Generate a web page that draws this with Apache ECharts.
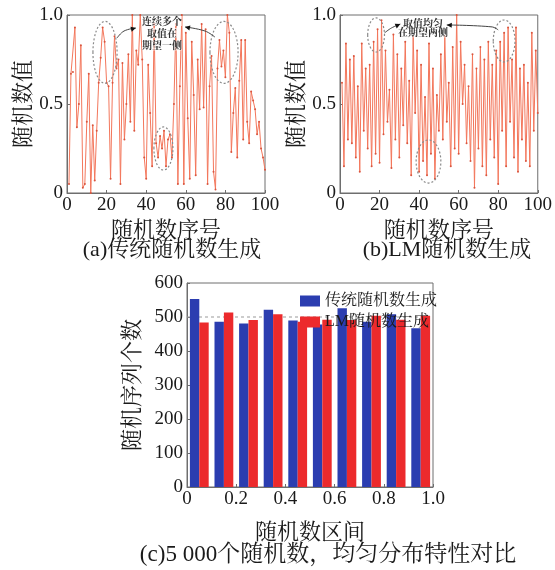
<!DOCTYPE html>
<html><head><meta charset="utf-8">
<script src="https://cdn.jsdelivr.net/npm/echarts@6/dist/echarts.min.js"></script>
<style>html,body{margin:0;padding:0;background:#fff}#c{width:555px;height:570px}</style>
</head><body><div id="c"></div>
<script>
// ---------- data ----------
var seqIndex = [];
for (var i = 1; i <= 100; i++) seqIndex.push(i);
var traditionalSeq = [0.05,0.67,0.68,0.93,0.37,0.50,0.83,0.03,0.05,0.40,
  0.67,0.00,0.38,0.07,0.35,0.62,0.76,0.93,0.85,0.62,
  0.60,0.08,0.62,0.88,0.70,0.75,0.05,0.73,0.30,0.50,
  0.78,0.40,1.00,0.35,0.80,0.72,1.00,0.75,0.20,0.08,
  0.72,0.45,0.15,0.95,0.28,0.20,0.32,0.25,0.35,0.15,
  0.30,0.33,0.20,0.50,0.95,0.05,0.60,1.00,0.05,0.90,
  0.42,0.08,0.85,0.55,0.10,0.75,0.47,0.95,0.48,0.92,
  0.05,0.60,0.77,0.12,0.02,0.70,0.86,0.71,0.80,0.65,
  1.00,0.90,0.23,0.45,0.59,0.20,0.63,0.86,0.30,0.86,
  0.40,0.28,0.57,0.52,0.47,0.33,0.40,0.25,0.20,0.13];
var lmSeq = [0.62,0.15,0.84,0.30,0.75,0.28,0.77,0.20,0.60,0.12,
  0.84,0.35,0.70,0.25,0.72,0.15,0.85,0.22,0.92,0.17,
  0.97,0.33,0.80,0.40,0.58,0.14,0.89,0.30,0.78,0.20,
  0.70,0.38,0.85,0.28,0.63,0.10,0.88,0.45,0.80,0.12,
  0.72,0.18,0.54,0.10,0.84,0.22,0.70,0.08,0.55,0.35,
  0.78,0.30,0.88,0.40,0.62,0.15,0.82,0.25,1.00,0.22,
  0.85,0.50,0.72,0.28,0.60,0.18,0.78,0.03,0.70,0.25,
  0.82,0.15,0.75,0.10,0.85,0.30,0.72,0.20,0.80,0.05,
  0.85,0.35,0.90,0.15,0.93,0.40,0.75,0.20,0.93,0.12,
  0.70,0.30,0.72,0.18,0.62,0.15,0.90,0.35,0.80,0.45];
var binLabels = ['0-0.1','0.1-0.2','0.2-0.3','0.3-0.4','0.4-0.5','0.5-0.6','0.6-0.7','0.7-0.8','0.8-0.9','0.9-1.0'];
var traditionalCounts = [553,486,481,521,490,478,526,486,508,467];
var lmCounts = [484,513,491,508,486,492,491,504,492,504];
var refLevel = 500;
var seriesNames = ['传统随机数生成','LM随机数生成'];
var captions = ['(a)传统随机数生成','(b)LM随机数生成','(c)5 000个随机数，均匀分布特性对比'];

// annotations in data coordinates
var notesA = ['连续多个','取值在','期望一侧'];
var notesAPos = [[48,0.966],[48,0.899],[48,0.829]];
var notesB = ['取值均匀','在期望两侧'];
var notesBPos = [[42,0.952],[42,0.902]];
var ellipsesA = [[19.2,0.79,6.1,0.174],[79.3,0.79,7.1,0.174],[48.7,0.25,4.8,0.121]];
var ellipsesB = [[18.25,0.888,4.25,0.096],[83,0.854,5.5,0.118],[44.75,0.177,6.25,0.121]];
var arrowsA = [[[25.3,0.871],[28.8,0.910],[34.8,0.927]],[[74.7,0.876],[69.7,0.910],[59.6,0.933]]];
var arrowsB = [[[22.5,0.899],[26,0.927],[30.5,0.949]],[[80,0.916],[77,0.933],[54,0.944]]];

// ---------- styles ----------
var NUM = '"Liberation Serif","Noto Serif CJK SC","Noto Sans CJK SC",serif';
var TXT = '#1a1a1a';
var AX = '#6e6e6e';
function zip(xs, ys){ return xs.map(function(x,i){return [x, ys[i]];}); }
function yFmt(v){ return v === 0 ? '0' : v.toFixed(1); }
function valX(grid, min, max, intv, name, gap, fmt){
  return {type:'value', gridIndex:grid, min:min, max:max, interval:intv,
    name:name, nameLocation:'middle', nameGap:gap,
    nameTextStyle:{fontFamily:NUM, fontSize:22, color:TXT},
    axisLine:{show:true, lineStyle:{color:AX}},
    axisTick:{show:true, inside:true, length:3, lineStyle:{color:AX}},
    axisLabel:{fontFamily:NUM, fontSize:19, color:TXT, margin:3, formatter:fmt},
    splitLine:{show:false}};
}
function valY(grid, min, max, intv, name, gap, fmt){
  return {type:'value', gridIndex:grid, min:min, max:max, interval:intv,
    name:name, nameLocation:'middle', nameGap:gap,
    nameTextStyle:{fontFamily:NUM, fontSize:22, color:TXT},
    axisLine:{show:true, lineStyle:{color:AX}},
    axisTick:{show:true, inside:true, length:3, lineStyle:{color:AX}},
    axisLabel:{fontFamily:NUM, fontSize:19, color:TXT, margin:4, formatter:fmt},
    splitLine:{show:false}};
}
var lineStyle = {color:'#f3775c', width:1};
var itemStyle = {color:'#d9553e'};

var chart = echarts.init(document.getElementById('c'), null, {renderer:'canvas'});
var option = {
  animation:false,
  backgroundColor:'#ffffff',
  grid:[
    {left:67, top:15, width:198, height:178, show:true, borderColor:AX, borderWidth:1},
    {left:340, top:15, width:200, height:178, show:true, borderColor:AX, borderWidth:1},
    {left:187, top:283, width:246, height:204, show:true, borderColor:AX, borderWidth:1}
  ],
  xAxis:[
    valX(0, 0, 100, 20, '随机数序号', 27, function(v){return String(v);}),
    valX(1, 0, 100, 20, '随机数序号', 27, function(v){return String(v);}),
    valX(2, 0, 1, 0.2, '随机数区间', 35, yFmt),
    {type:'category', gridIndex:2, data:binLabels, show:false, boundaryGap:true}
  ],
  yAxis:[
    valY(0, 0, 1, 0.5, '随机数值', 31, yFmt),
    valY(1, 0, 1, 0.5, '随机数值', 31, yFmt),
    valY(2, 0, 600, 100, '随机序列个数', 43, function(v){return String(v);})
  ],
  legend:{
    orient:'vertical', left:295, top:288, itemWidth:20, itemHeight:11, itemGap:5,
    icon:'rect', data:seriesNames,
    textStyle:{fontFamily:NUM, fontSize:16, color:TXT}
  },
  series:[
    {type:'line', xAxisIndex:0, yAxisIndex:0, data:zip(seqIndex, traditionalSeq),
      symbol:'circle', symbolSize:2, lineStyle:lineStyle, itemStyle:itemStyle, z:3},
    {type:'line', xAxisIndex:1, yAxisIndex:1, data:zip(seqIndex, lmSeq),
      symbol:'circle', symbolSize:2, lineStyle:lineStyle, itemStyle:itemStyle, z:3},
    {type:'line', xAxisIndex:2, yAxisIndex:2, data:[[0,refLevel],[1,refLevel]],
      symbol:'none', lineStyle:{color:'#999', width:1, type:[3,3]}, z:1, silent:true},
    {name:seriesNames[0], type:'bar', xAxisIndex:3, yAxisIndex:2, data:traditionalCounts,
      barWidth:9.4, barGap:'0%', itemStyle:{color:'#2b3db0'}, z:2},
    {name:seriesNames[1], type:'bar', xAxisIndex:3, yAxisIndex:2, data:lmCounts,
      barWidth:9.4, barGap:'0%', itemStyle:{color:'#ec2a2c'}, z:2}
  ]
};
chart.setOption(option);

// ---------- annotations & captions ----------
function px(axis, p){ return chart.convertToPixel({xAxisIndex:axis, yAxisIndex:axis}, p); }
var g = [];
function addEllipses(axis, list){
  list.forEach(function(e){
    var c = px(axis, [e[0], e[1]]);
    var r = px(axis, [e[0]+e[2], e[1]+e[3]]);
    g.push({type:'ellipse', shape:{cx:c[0], cy:c[1], rx:Math.abs(r[0]-c[0]), ry:Math.abs(c[1]-r[1])},
      style:{fill:'none', stroke:'#8a8a8a', lineWidth:1.2, lineDash:[2,2]}, z:10});
  });
}
function addArrows(axis, list){
  list.forEach(function(pts){
    var pp = pts.map(function(p){return px(axis, p);});
    g.push({type:'polyline', shape:{points:pp, smooth:0.4}, style:{stroke:'#444', lineWidth:1, fill:'none'}, z:10});
    var a = pp[pp.length-1], b = pp[pp.length-2];
    var dx = a[0]-b[0], dy = a[1]-b[1], L = Math.sqrt(dx*dx+dy*dy); dx/=L; dy/=L;
    var s = 5, w = 2.5;
    g.push({type:'polygon', shape:{points:[[a[0],a[1]],[a[0]-dx*s-dy*w, a[1]-dy*s+dx*w],[a[0]-dx*s+dy*w, a[1]-dy*s-dx*w]]},
      style:{fill:'#111'}, z:11});
  });
}
function addNotes(axis, lines, pos){
  lines.forEach(function(t, i){
    var p = px(axis, pos[i]);
    g.push({type:'text', x:p[0], y:p[1], style:{text:t, font:'bold 10px "Noto Serif CJK SC","Noto Sans CJK SC",sans-serif',
      fill:'#333', align:'center', verticalAlign:'middle', backgroundColor:'rgba(255,255,255,0.6)'}, z:12});
  });
}
addEllipses(0, ellipsesA); addEllipses(1, ellipsesB);
addArrows(0, arrowsA); addArrows(1, arrowsB);
addNotes(0, notesA, notesAPos); addNotes(1, notesB, notesBPos);
var capPos = [[172,250],[447,250],[328,555]];
var capSize = [22,22,23];
captions.forEach(function(t, i){
  g.push({type:'text', x:capPos[i][0], y:capPos[i][1], style:{text:t, font:capSize[i] + 'px ' + NUM, fill:TXT,
    align:'center', verticalAlign:'middle'}, z:12});
});
chart.setOption({graphic:{elements:g}});
</script>
</body></html>
